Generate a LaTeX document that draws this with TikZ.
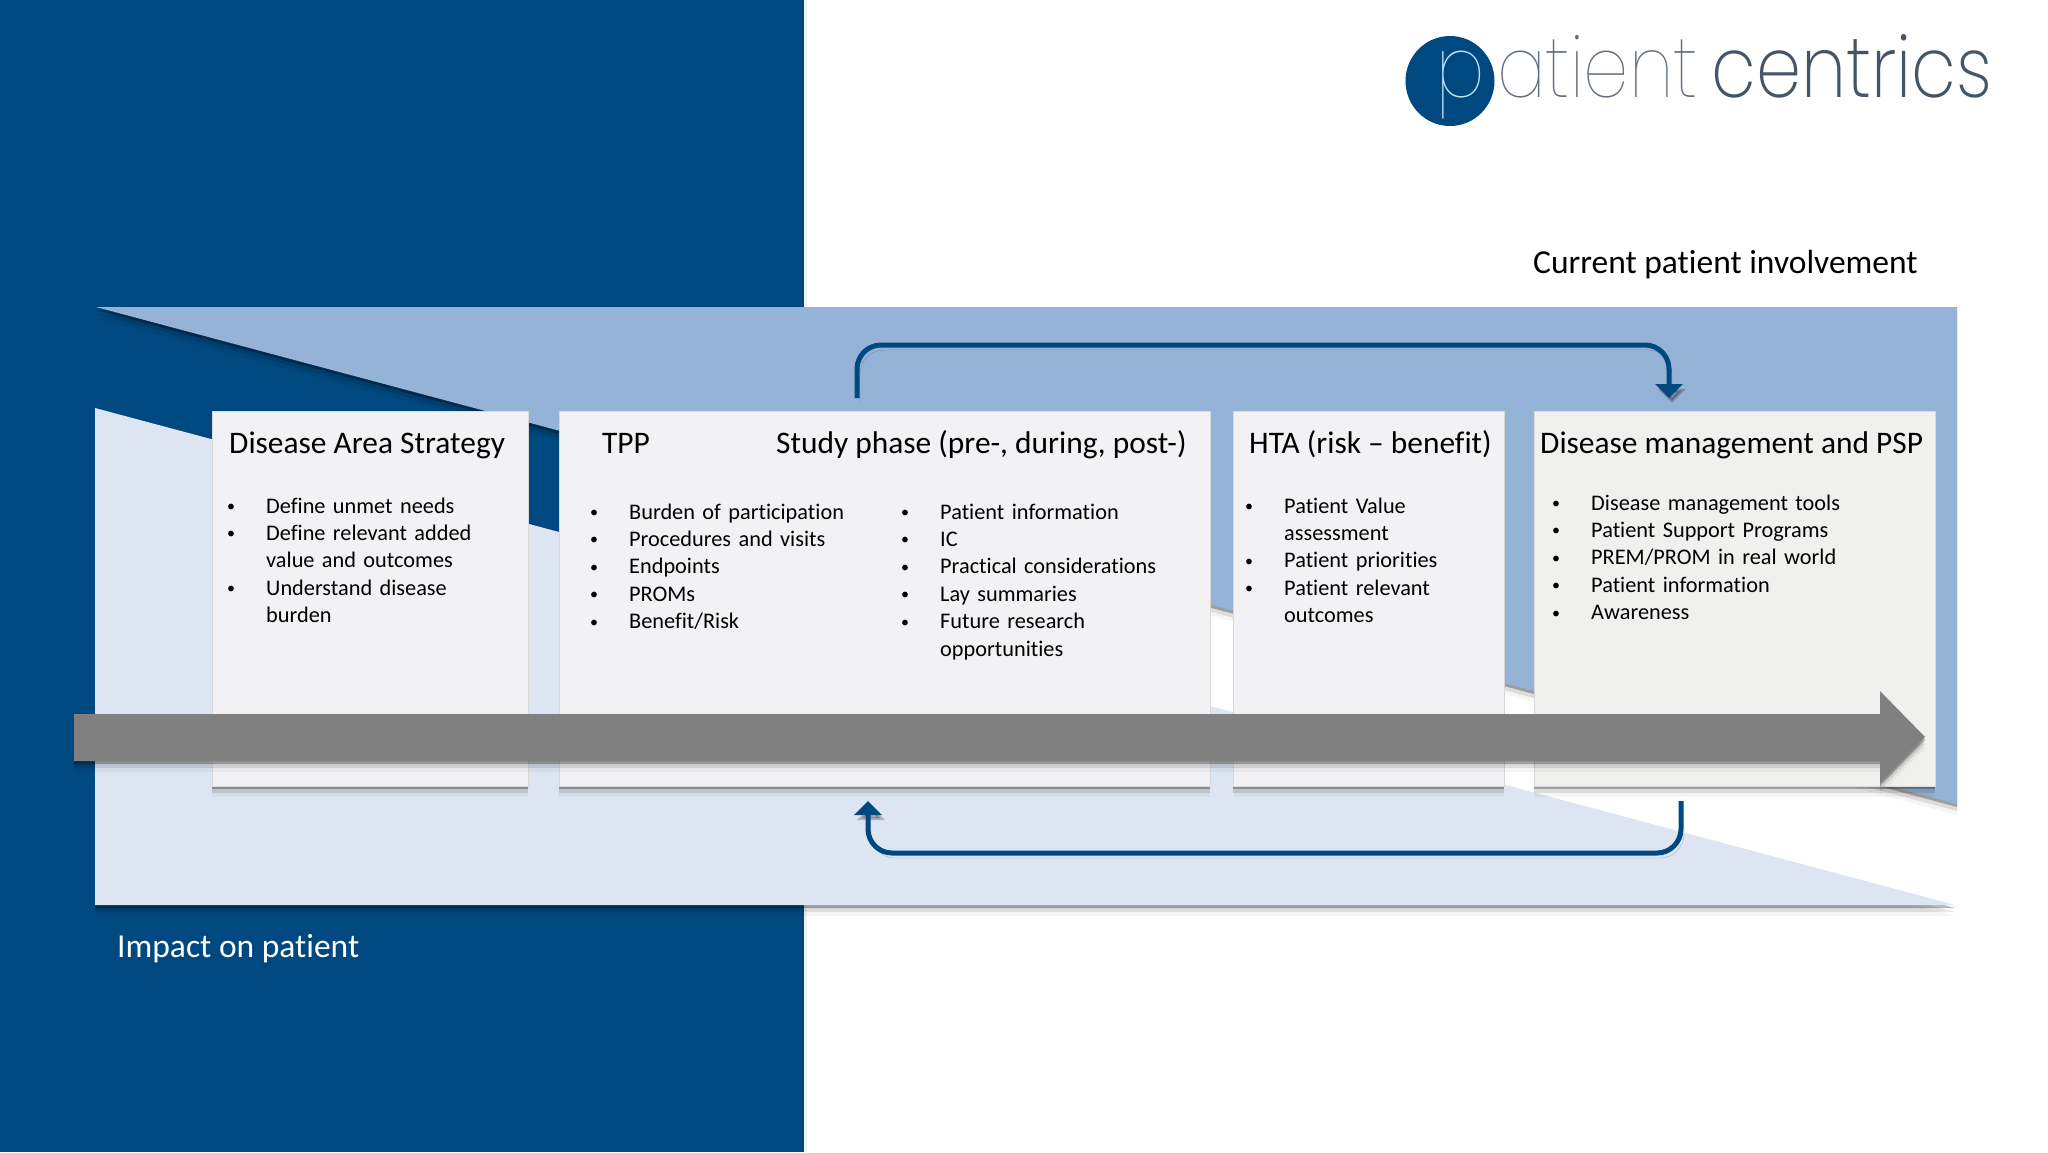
\documentclass[tikz,border=0pt]{standalone}
\usepackage{fontspec}
\setmainfont{Carlito}[Ligatures=NoCommon]
\newfontfamily\logofont{Poppins}[UprightFont=* Thin]
\newfontfamily\logoheavy{Poppins}[UprightFont=* ExtraLight]
\usepackage{xcolor}
\usepackage{tikz}
\usetikzlibrary{arrows.meta,positioning,shadows}
\definecolor{pcnavy}{RGB}{0,72,128}
\definecolor{pcupper}{RGB}{149,179,215}
\definecolor{pclower}{RGB}{220,229,241}
\definecolor{pccard}{RGB}{242,242,245}
\definecolor{pccardend}{RGB}{240,241,239}
\definecolor{pcgrey}{RGB}{128,128,128}
\definecolor{pcslate}{RGB}{45,62,80}
\definecolor{pcpale}{RGB}{190,225,245}
\newcommand{\bodyfont}{\fontsize{22.3}{27.4}\selectfont}
\newcommand{\titlefont}{\fontsize{31.4}{38}\selectfont}
\newcommand{\bitem}[1]{\noindent\hangindent=39pt\hangafter=1\makebox[39pt][l]{\raisebox{1.5pt}{\fontsize{16}{16}\selectfont\textbullet}}#1\par}
\tikzstyle{softshadow} = [drop shadow={shadow xshift=0pt,shadow yshift=-3pt,opacity=.28,fill=black},drop shadow={shadow xshift=0pt,shadow yshift=-7pt,opacity=.1,fill=black},drop shadow={shadow xshift=0pt,shadow yshift=-11pt,opacity=.04,fill=black}]
\tikzstyle{cardnode} = [rectangle, minimum height=375pt, outer sep=0pt, fill=pccard, draw=black!15, line width=.8pt, softshadow]
\tikzstyle{cardtitle} = [anchor=base west, inner sep=0pt, font=\titlefont]
\tikzstyle{cardlist} = [anchor=base west, inner sep=0pt, text width=330pt, align=left, font=\bodyfont]
\tikzstyle{looparrow} = [line width=5pt, draw=pcnavy, rounded corners=24pt, -{Triangle[width=27pt,length=14pt]}, preaction={draw=black, opacity=.22, transform canvas={xshift=3pt,yshift=-5pt}}]
\tikzstyle{caption} = [anchor=base west, inner sep=0pt, font=\fontsize{33.5}{40}\selectfont]
\tikzstyle{logoword} = [anchor=base west, inner sep=0pt, xscale=.85, transform shape]
\begin{document}
\begin{tikzpicture}[x=1pt,y=-1pt]
\useasboundingbox (0,0) rectangle (2048,1152);
% background panels
\fill[white] (0,0) rectangle (2048,1152);
\fill[pcnavy, drop shadow={shadow xshift=3pt,shadow yshift=0pt,opacity=.06,fill=black}] (0,0) rectangle (804,1152);
\path[fill=pclower, softshadow] (95,408) -- (1955,905) -- (95,905) -- cycle;
\path[fill=pcupper, softshadow] (96,307) -- (1957,307) -- (1957,804) -- cycle;

% logo
\fill[pcnavy] (1450,81) ellipse (44.5pt and 45pt);
\node[logoword, font=\logofont\fontsize{85}{85}\selectfont, text=pcpale] (logop) at (1436,97) {p};
\node[logoword, font=\logofont\fontsize{85}{85}\selectfont, text=pcslate!75] (logopatient) at (1497,97) {atient};
\node[logoword, font=\logoheavy\fontsize{85}{85}\selectfont, text=pcslate!88] (logocentrics) at (1711,97) {centrics};

% cards
\node[cardnode, minimum width=316pt, anchor=north west] (dascard) at (212,411) {};
\node[cardnode, minimum width=651pt, right=31pt of dascard] (tppcard) {};
\node[cardnode, minimum width=271pt, right=23pt of tppcard] (htacard) {};
\node[cardnode, minimum width=401pt, right=30pt of htacard, fill=pccardend] (psmcard) {};

% card titles
\node[cardtitle] (dastitle) at (229,453) {Disease Area Strategy};
\node[cardtitle] (tpptitle) at (602,453) {TPP};
\node[cardtitle] (studytitle) at (776,453) {Study phase (pre-, during, post-)};
\node[cardtitle] (htatitle) at (1249,453) {HTA (risk -- benefit)};
\node[cardtitle] (psmtitle) at (1540,453) {Disease management and PSP};

% bullet lists
\node[cardlist] (daslist) at (227,513) {
\bitem{Define unmet needs}
\bitem{Define relevant added\newline value and outcomes}
\bitem{Understand disease\newline burden}
};
\node[cardlist] (tpplist) at (590,519) {
\bitem{Burden of participation}
\bitem{Procedures and visits}
\bitem{Endpoints}
\bitem{PROMs}
\bitem{Benefit/Risk}
};
\node[cardlist] (studylist) at (901,519) {
\bitem{Patient information}
\bitem{IC}
\bitem{Practical considerations}
\bitem{Lay summaries}
\bitem{Future research\newline opportunities}
};
\node[cardlist] (htalist) at (1245,513) {
\bitem{Patient Value\newline assessment}
\bitem{Patient priorities}
\bitem{Patient relevant\newline outcomes}
};
\node[cardlist] (psmlist) at (1552,510) {
\bitem{Disease management tools}
\bitem{Patient Support Programs}
\bitem{PREM/PROM in real world}
\bitem{Patient information}
\bitem{Awareness}
};

% time arrow
\path[fill=pcgrey, softshadow] (74,714) -- (1880,714) -- (1880,691) -- (1925,737) -- (1880,783) -- (1880,761) -- (74,761) -- cycle;

% feedback arrows
\coordinate (upstart) at (857,398);
\coordinate (upend) at (1669,398);
\coordinate (downstart) at (1681,801);
\coordinate (downend) at (868,801);
\draw[looparrow] (upstart) -- ++(0,-53) -| (upend);
\draw[looparrow] (downstart) -- ++(0,52) -| (downend);

% captions
\node[caption] (current) at (1533,273) {Current patient involvement};
\node[caption, text=white] (impact) at (117,957) {Impact on patient};
\end{tikzpicture}
\end{document}
